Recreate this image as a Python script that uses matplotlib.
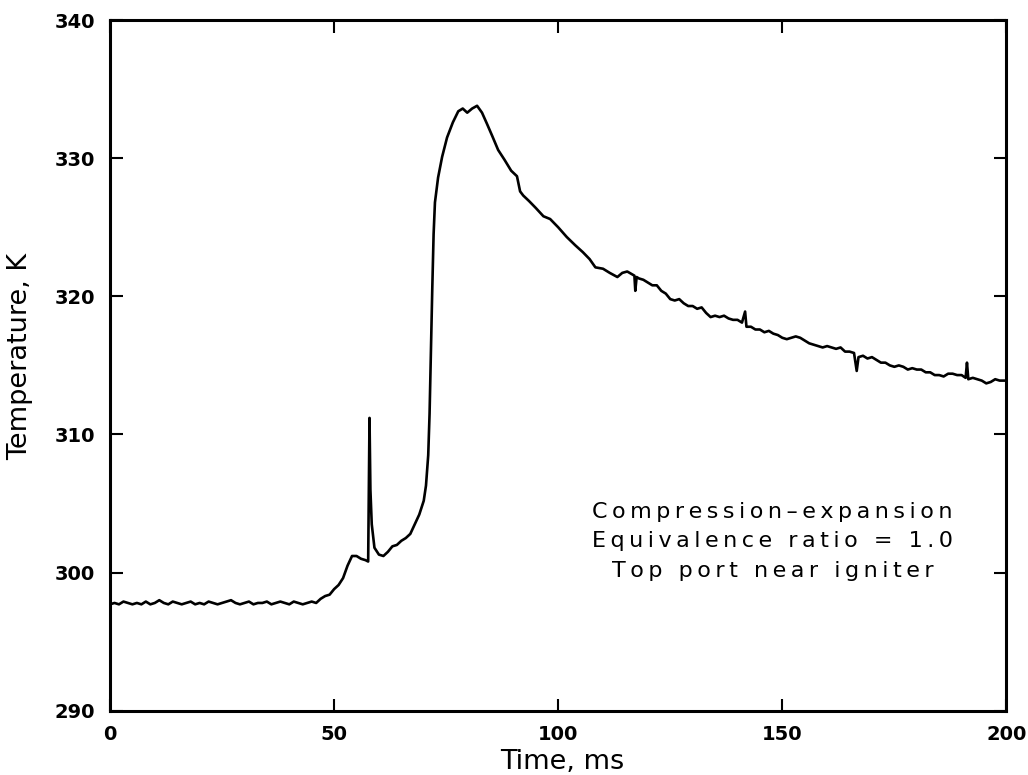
import matplotlib.pyplot as plt

# trace (time in ms, temperature in K), in pieces
base_t = [0, 1, 2, 3, 4, 5, 6, 7, 8, 9,
          10, 11, 12, 13, 14, 15, 16, 17, 18, 19,
          20, 21, 22, 23, 24, 25, 26, 27, 28, 29,
          30, 31, 32, 33, 34, 35, 36, 37, 38, 39,
          40, 41, 42, 43, 44, 45, 46, 47]
base_T = [297.7, 297.8, 297.7, 297.9, 297.8, 297.7, 297.8, 297.7, 297.9, 297.7,
          297.8, 298.0, 297.8, 297.7, 297.9, 297.8, 297.7, 297.8, 297.9, 297.7,
          297.8, 297.7, 297.9, 297.8, 297.7, 297.8, 297.9, 298.0, 297.8, 297.7,
          297.8, 297.9, 297.7, 297.8, 297.8, 297.9, 297.7, 297.8, 297.9, 297.8,
          297.7, 297.9, 297.8, 297.7, 297.8, 297.9, 297.8, 298.1]

rise_t = [48, 49, 50, 51, 52, 53, 54, 55, 56, 57,
          57.6, 57.9, 58.1, 58.4, 59, 60, 61, 62, 63, 64,
          65, 66, 67, 68, 69, 70, 70.5, 71, 71.3, 71.6,
          71.9, 72.2, 72.5]
rise_T = [298.3, 298.4, 298.8, 299.1, 299.6, 300.5, 301.2, 301.2, 301.0, 300.9,
          300.8, 311.2, 306.0, 303.5, 301.8, 301.3, 301.2, 301.5, 301.9, 302.0,
          302.3, 302.5, 302.8, 303.5, 304.2, 305.2, 306.3, 308.5, 311.5, 316.0,
          320.5, 324.5, 326.8]

peak_t = [73.2, 74.1, 75.2, 76.5, 77.7, 78.7, 79.7, 80.8, 81.9, 83,
          84.1, 85.3, 86.6, 88, 89.5, 90.8, 91.5, 92.2, 93.5, 95,
          96.7, 98.2, 100, 101.9, 103.8, 105.5, 107, 108.3, 110, 111.5,
          113.2, 114.3, 115.4]
peak_T = [328.6, 330.1, 331.5, 332.6, 333.4, 333.6, 333.3, 333.6, 333.8, 333.3,
          332.5, 331.6, 330.6, 329.9, 329.1, 328.7, 327.6, 327.3, 326.9, 326.4,
          325.8, 325.6, 325.0, 324.3, 323.7, 323.2, 322.7, 322.1, 322.0, 321.7,
          321.4, 321.7, 321.8]

decay_t = [116.5, 117.0, 117.2, 117.5, 118, 119, 120, 121, 122, 123,
           124, 125, 126, 127, 128, 129, 130, 131, 132, 133,
           134, 135, 136, 137, 138, 139, 140, 141, 141.7, 142,
           143, 144, 145, 146, 147, 148, 149, 150, 151, 152,
           153, 154, 155, 156, 157, 158, 159, 160, 161, 162,
           163, 164, 165, 166, 166.6, 167, 168, 169, 170, 171,
           172, 173, 174, 175, 176, 177, 178, 179, 180, 181,
           182, 183, 184, 185, 186, 187, 188, 189, 190, 190.9,
           191.2, 191.5, 192.5, 193.5, 194.5, 195.5, 196.5, 197.5, 198.5, 200]
decay_T = [321.6, 321.5, 320.4, 321.4, 321.3, 321.2, 321.0, 320.8, 320.8, 320.4,
           320.2, 319.8, 319.7, 319.8, 319.5, 319.3, 319.3, 319.1, 319.2, 318.8,
           318.5, 318.6, 318.5, 318.6, 318.4, 318.3, 318.3, 318.1, 318.9, 317.8,
           317.8, 317.6, 317.6, 317.4, 317.5, 317.3, 317.2, 317.0, 316.9, 317.0,
           317.1, 317.0, 316.8, 316.6, 316.5, 316.4, 316.3, 316.4, 316.3, 316.2,
           316.3, 316.0, 316.0, 315.9, 314.6, 315.6, 315.7, 315.5, 315.6, 315.4,
           315.2, 315.2, 315.0, 314.9, 315.0, 314.9, 314.7, 314.8, 314.7, 314.7,
           314.5, 314.5, 314.3, 314.3, 314.2, 314.4, 314.4, 314.3, 314.3, 314.1,
           315.2, 314.0, 314.1, 314.0, 313.9, 313.7, 313.8, 314.0, 313.9, 313.9]

time_ms = base_t + rise_t + peak_t + decay_t
temp_K = base_T + rise_T + peak_T + decay_T

note_lines = ['Compression\u2013expansion',
              'Equivalence ratio = 1.0',
              'Top port near igniter']


def spaced(s):
    # wide letter spacing like the old plotter lettering
    return '\u2009'.join(s)


fig = plt.figure(figsize=(10.28, 7.75), dpi=100)
ax = fig.add_axes([0.107, 0.083, 0.872, 0.891])

ax.plot(time_ms, temp_K, color='black', linewidth=1.9)

ax.set_xlim(0, 200)
ax.set_ylim(290, 340)
ax.set_xticks([0, 50, 100, 150, 200])
ax.set_yticks([290, 300, 310, 320, 330, 340])

for s in ax.spines.values():
    s.set_linewidth(2.2)
ax.tick_params(direction='in', length=9, width=1.5, top=True, right=True,
               labelsize=14)
ax.tick_params(axis='x', pad=10)
ax.tick_params(axis='y', pad=11)
for lbl in ax.get_xticklabels() + ax.get_yticklabels():
    lbl.set_fontweight('bold')

ax.set_xlabel('Time, ms', fontsize=19.5)
ax.set_ylabel('Temperature, K', fontsize=19.5)
ax.xaxis.set_label_coords(0.504, -0.055)
ax.yaxis.set_label_coords(-0.086, 0.513)

ax.text(0.739, 0.245, '\n'.join(spaced(l) for l in note_lines),
        transform=ax.transAxes, ha='center', va='center', fontsize=16,
        linespacing=1.58)

fig.savefig('out.png', dpi=100)
